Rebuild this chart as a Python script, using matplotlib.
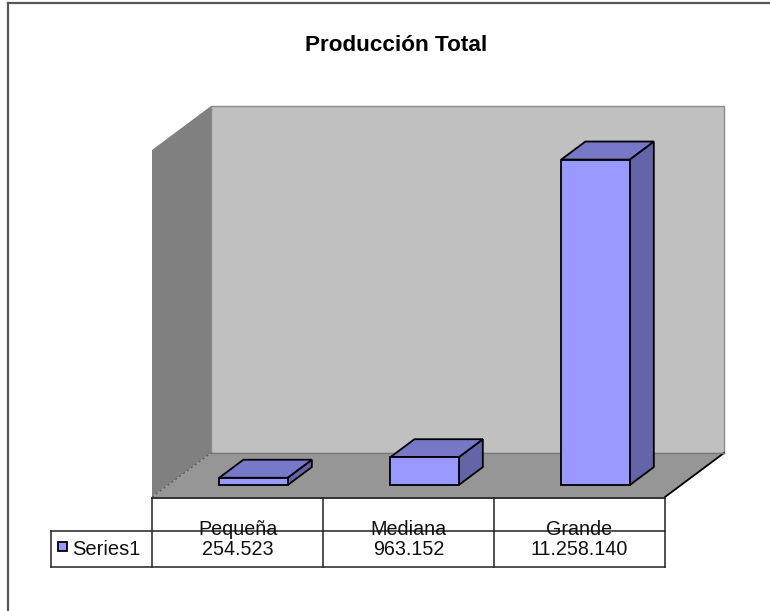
import matplotlib
matplotlib.use("Agg")
import matplotlib.pyplot as plt
from matplotlib.patches import Polygon, Rectangle
from matplotlib.transforms import blended_transform_factory

# ---- data ----
title = "Producción Total"
categories = ["Pequeña", "Mediana", "Grande"]
values = [254523, 963152, 11258140]
series_name = "Series1"
y_max = 12000000

plt.rcParams['font.family'] = ['Liberation Sans', 'DejaVu Sans']

W, H = 770, 611
fig = plt.figure(figsize=(W / 100, H / 100), dpi=100)
fig.patch.set_facecolor("white")

# overlay in pixel coordinates for layout items
ov = fig.add_axes([0, 0, 1, 1])
ov.set_xlim(0, W)
ov.set_ylim(H, 0)
ov.axis("off")

# main data axes = front plane of the 3D plot
ax_left, ax_right, ax_bottom, ax_top = 152, 665, 497, 150
ax = fig.add_axes([ax_left / W, (H - ax_bottom) / H,
                   (ax_right - ax_left) / W, (ax_bottom - ax_top) / H])
ax.set_xlim(-0.5, len(categories) - 0.5)
ax.set_ylim(0, y_max)
ax.axis("off")
ax.set_zorder(2)

# depth offset, in data units (converted from the axes scale)
px_per_cat = (ax_right - ax_left) / len(categories)
px_per_val = (ax_bottom - ax_top) / y_max
DX = 59 / px_per_cat
DY = 44 / px_per_val

x_lo, x_hi = -0.5, len(categories) - 0.5

# back wall
ax.add_patch(Polygon([(x_lo + DX, DY), (x_hi + DX, DY), (x_hi + DX, y_max + DY),
                      (x_lo + DX, y_max + DY)], closed=True, facecolor="#C0C0C0",
                     edgecolor="#8a8a8a", lw=1.0, clip_on=False, zorder=1))
# left wall
ax.add_patch(Polygon([(x_lo, 0), (x_lo, y_max), (x_lo + DX, y_max + DY), (x_lo + DX, DY)],
                     closed=True, facecolor="#808080", edgecolor="none",
                     clip_on=False, zorder=1))
# floor
ax.add_patch(Polygon([(x_lo, 0), (x_hi, 0), (x_hi + DX, DY), (x_lo + DX, DY)],
                     closed=True, facecolor="#969696", edgecolor="none",
                     clip_on=False, zorder=1))
ax.plot([x_hi, x_hi + DX], [0, DY], color="black", lw=1.3, clip_on=False, zorder=2)
ax.plot([x_lo + DX, x_hi + DX], [DY, DY], color="#7a7a7a", lw=1.0, clip_on=False, zorder=2)
ax.plot([x_lo, x_lo + DX], [0, DY], color="#5a5a5a", lw=1.0, ls=(0, (1.5, 2)),
        clip_on=False, zorder=2)

# bars
bar_w = 0.40
f0, bd = 0.27, 0.41
front_c, top_c, side_c = "#9999FF", "#7878C8", "#6464A8"
for i, v in enumerate(values):
    x0 = i - bar_w / 2 + f0 * DX
    x1 = x0 + bar_w
    y0 = f0 * DY
    y1 = y0 + v
    ox, oy = bd * DX, bd * DY
    kw = dict(closed=True, edgecolor="black", lw=1.3, clip_on=False, zorder=3,
              joinstyle="miter")
    ax.add_patch(Polygon([(x1, y0), (x1 + ox, y0 + oy), (x1 + ox, y1 + oy), (x1, y1)],
                         facecolor=side_c, **kw))
    ax.add_patch(Polygon([(x0, y1), (x1, y1), (x1 + ox, y1 + oy), (x0 + ox, y1 + oy)],
                         facecolor=top_c, **kw))
    ax.add_patch(Polygon([(x0, y0), (x1, y0), (x1, y1), (x0, y1)],
                         facecolor=front_c, **kw))

# ---- data table ----
tr = blended_transform_factory(ax.transData, ov.transData)
row_top, row_mid, row_bot = 498, 531, 567
legend_left = 51
tc = "#222222"
ax.plot([x_lo, x_hi], [row_top, row_top], transform=tr, color=tc, lw=1.3, clip_on=False)
for xb in [x_lo + k for k in range(len(categories) + 1)]:
    ax.plot([xb, xb], [row_top, row_bot], transform=tr, color=tc, lw=1.1, clip_on=False)
ov.plot([legend_left, ax_right], [row_mid, row_mid], color=tc, lw=1.1)
ov.plot([legend_left, ax_right], [row_bot, row_bot], color=tc, lw=1.1)
ov.plot([legend_left, legend_left], [row_mid, row_bot], color=tc, lw=1.1)

for i, (c, v) in enumerate(zip(categories, values)):
    ax.text(i, 535, c, transform=tr, ha="center", va="baseline", fontsize=14.2,
            color="#111111", zorder=1)
    ax.text(i, 555, f"{v:,}".replace(",", "."), transform=tr, ha="center",
            va="baseline", fontsize=14.2, color="#111111")

ov.add_patch(Rectangle((58, 542), 9, 9, facecolor=front_c, edgecolor="black", lw=1.3))
ov.text(72, 555, series_name, ha="left", va="baseline", fontsize=14.5, color="#111111")

# title
ov.text(396, 51, title, ha="center", va="baseline", fontsize=16.2, fontweight="bold",
        color="black")

# outer border (right and bottom edges lie outside the image)
ov.plot([8, W + 5], [3, 3], color="#555555", lw=1.6)
ov.plot([8, 8], [3, H + 5], color="#555555", lw=1.6)

fig.savefig("out.png", dpi=100)
